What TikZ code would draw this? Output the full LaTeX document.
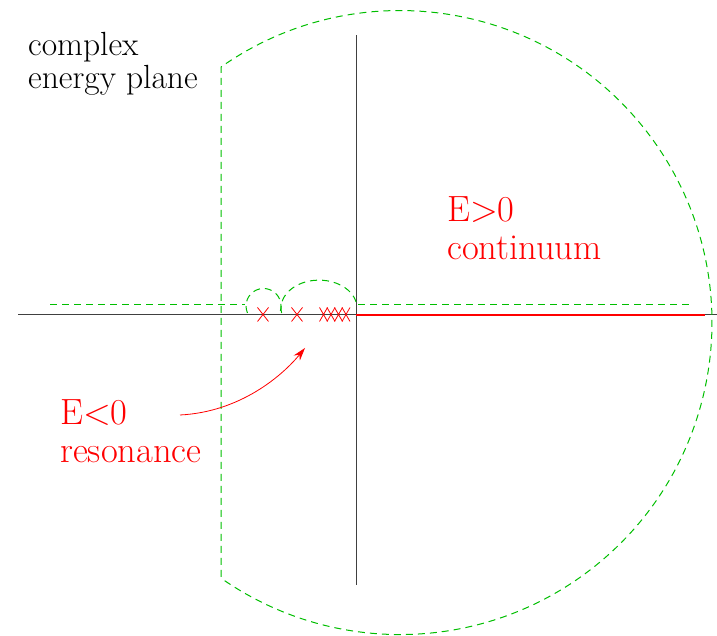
\documentclass[tikz,border=0pt]{standalone}
\usepackage{fontspec}
\usetikzlibrary{arrows.meta}
\definecolor{pathgreen}{RGB}{0,190,0}
\begin{document}
\begin{tikzpicture}[x=1pt,y=1pt,
  axis/.style={black!75,line width=1pt},
  contour/.style={pathgreen,line width=1pt,dash pattern=on 7pt off 5pt},
  polemark/.style={red,line width=0.8pt},
  redlabel/.style={red,font=\fontsize{36.5}{38}\selectfont,align=left,inner sep=0pt,anchor=north west},
  blacklabel/.style={black,font=\fontsize{33.5}{33}\selectfont,align=left,inner sep=0pt,anchor=north west}]
\useasboundingbox (0,0) rectangle (717,636);
% axes
\coordinate (xl) at (18,321);
\coordinate (xr) at (717,321);
\coordinate (yb) at (356,51);
\coordinate (yt) at (356,601);
\coordinate (o) at (356,321);
\coordinate (cr) at (705,321);
\draw[axis] (xl) -- (xr);
\draw[axis] (yb) -- (yt);
\draw[red,line width=2pt] (o) -- (cr);
% contour
\draw[contour] (221,59) -- (221,569) arc[start angle=125,end angle=-125,radius=312];
\draw[contour] (50,331) -- (245,331);
\draw[contour] (358,331) -- (690,331);
\draw[contour] (247.5,323) arc[start angle=203.6,end angle=-23.6,radius=17.5];
\draw[contour] (281.6,323) arc[start angle=190,end angle=6,x radius=38,y radius=28];
% poles
\foreach \px/\w in {263/5.5,297/5.5,323.5/4,331/4,338.5/4,346/4}{
  \draw[polemark] (\px-\w,321.5-7) -- (\px+\w,321.5+7) (\px-\w,321.5+7) -- (\px+\w,321.5-7);
}
% labels
\node[blacklabel] (cplane) at (28,604) {complex\\energy plane};
\node[redlabel] (cont) at (447,440) {E>0\\continuum};
\node[redlabel] (reso) at (60,237) {E<0\\resonance};
\coordinate (tip) at (305,288);
\draw[red,line width=0.8pt,-{Stealth[length=13pt,width=8pt]}] (180,221) .. controls (240,224) and (282,260) .. (tip);
\end{tikzpicture}
\end{document}
